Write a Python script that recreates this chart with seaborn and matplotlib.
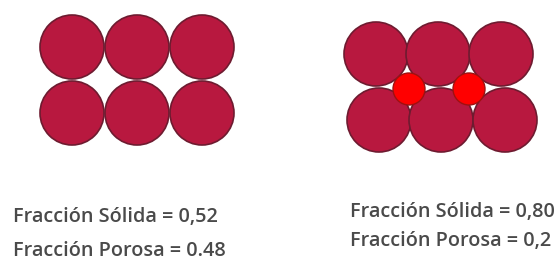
"""
Packing diagram: solid vs porous fraction for two circle arrangements
"""

import matplotlib
matplotlib.use('Agg')
import matplotlib.pyplot as plt
from matplotlib.patches import Circle
import seaborn as sns

sns.set_theme(style='white')
plt.rcParams['font.family'] = ['Open Sans', 'DejaVu Sans']

# Large grains (centre x, centre y in pixel space, radius)
square_x = [72, 137, 202, 72, 137, 202]
square_y = [47, 47, 47, 113, 113, 113]
square_r = 32

packed_x = [376, 438, 501, 379, 441, 505]
packed_y = [54, 54, 54, 120, 120, 120]
packed_r = 32

# small grains filling the gaps
filler_x = [409, 469]
filler_y = [89, 89]
filler_r = 16

labels_left = ['Fracción Sólida = 0,52', 'Fracción Porosa = 0.48']
labels_right = ['Fracción Sólida = 0,80', 'Fracción Porosa = 0,2']

grain = '#b8183f'
grain_edge = '#6e1b30'
filler = '#ff0000'
filler_edge = '#a01010'
text_col = '#4a4a4a'

fig = plt.figure(figsize=(5.6, 2.62), dpi=100)
ax = fig.add_axes([0, 0, 1, 1])
ax.set_xlim(0, 560)
ax.set_ylim(262, 0)
ax.set_aspect('equal')
ax.axis('off')

for x, y in zip(square_x, square_y):
    ax.add_patch(Circle((x, y), square_r, facecolor=grain, edgecolor=grain_edge, linewidth=1.2))

for x, y in zip(packed_x, packed_y):
    ax.add_patch(Circle((x, y), packed_r, facecolor=grain, edgecolor=grain_edge, linewidth=1.2))

for x, y in zip(filler_x, filler_y):
    ax.add_patch(Circle((x, y), filler_r, facecolor=filler, edgecolor=filler_edge, linewidth=1.0, zorder=3))

for t, yb in zip(labels_left, [222, 256]):
    ax.text(13, yb, t, fontsize=14.3, fontweight='semibold', color=text_col, va='baseline', ha='left')

for t, yb in zip(labels_right, [217, 246]):
    ax.text(350, yb, t, fontsize=14.3, fontweight='semibold', color=text_col, va='baseline', ha='left')

plt.savefig('out.png', dpi=100)
